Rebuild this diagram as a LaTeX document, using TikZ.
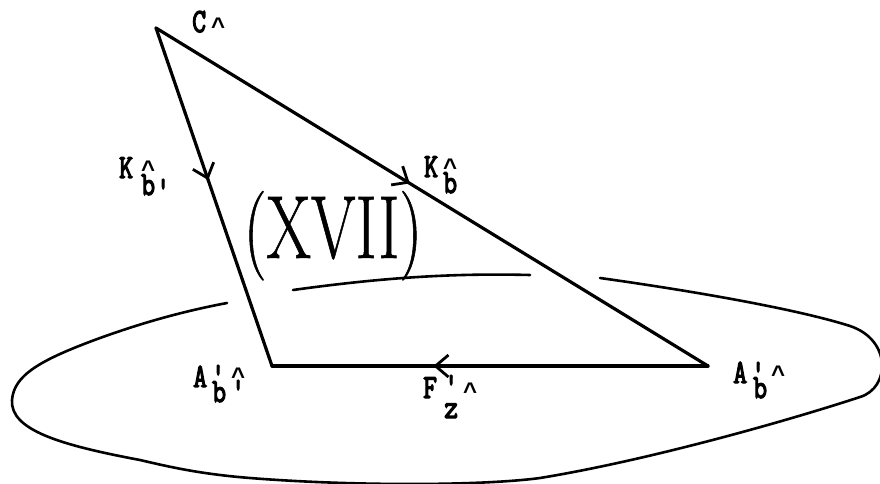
\documentclass[tikz,border=0pt]{standalone}
\usepackage{fontspec}
\usetikzlibrary{arrows.meta,decorations.markings}
\newfontfamily\tw[FakeBold=4]{Latin Modern Mono}
\newfontfamily\crt{Liberation Mono}
\newfontfamily\bigrm[FakeBold=0.8]{Latin Modern Roman}
\tikzset{
  edge/.style={line width=3.2pt,line cap=round,line join=round,postaction={decorate}},
  barb/.style={decoration={markings,mark=at position #1 with {\arrow{Straight Barb[length=13pt,width=22pt,line width=2.8pt]}}}},
  lbl/.style={inner sep=0pt,anchor=base west,font=\tw\fontsize{27}{29}\selectfont},
  hat/.style={inner sep=0pt,anchor=base west,font=\crt\bfseries\fontsize{24}{26}\selectfont},
  ring/.style={line width=2.6pt,line cap=round},
}
\newcommand\tx[1]{\scalebox{1}[1.25]{#1}}
\begin{document}
\begin{tikzpicture}[x=1pt,y=-1pt]
\useasboundingbox[fill=white] (0,0) rectangle (880,484);
\coordinate (C) at (156,28);
\coordinate (L) at (272,366);
\coordinate (R) at (708,366);
% ellipse (ground plane)
\draw[ring] (600,278) .. controls (700,292) and (800,310) .. (850,326)
  .. controls (892,340) and (890,388) .. (860,397)
  .. controls (790,420) and (650,460) .. (540,478)
  .. controls (480,486) and (350,486) .. (250,478)
  .. controls (200,474) and (170,467) .. (140,460)
  .. controls (60,445) and (10,430) .. (12,400)
  .. controls (14,375) and (40,360) .. (100,338)
  .. controls (150,320) and (190,310) .. (227,303);
\draw[ring] (293,290) .. controls (380,278) and (450,273) .. (530,275);
% triangle
\draw[edge,barb=0.45] (C) -- (L);
\draw[edge,barb=0.46] (C) -- (R);
\draw[edge,barb=0.63] (R) -- (L);
% big label
\node[inner sep=0pt,anchor=base] (xvii) at (333,258) {\bigrm\fontsize{63}{70}\selectfont\scalebox{1.02}[1.42]{(XVII)}};
% label C^
\node[lbl] (c1) at (192,32) {\tx{C}};
\node[hat] (c2) at (211,35) {\textasciicircum};
% label K^b' (left)
\node[lbl] (k1) at (119,178) {\tx{K}};
\node[hat] (k2) at (141,177) {\textasciicircum};
\node[lbl] (k3) at (141,195) {\tx{b}};
\node[lbl] (k4) at (156,200) {\tx{'}};
% label K^b (right)
\node[lbl] (m1) at (424,177) {\tx{K}};
\node[hat] (m2) at (443,175) {\textasciicircum};
\node[lbl] (m3) at (443,193) {\tx{b}};
% label A'b^' (left)
\node[lbl] (a1) at (193,387) {\tx{A}};
\node[lbl] (a2) at (211,386) {\tx{'}};
\node[lbl] (a3) at (212,402) {\tx{b}};
\node[hat] (a4) at (231,384) {\textasciicircum};
\node[lbl] (a5) at (231,401) {\tx{'}};
% label F'^z
\node[lbl] (f1) at (423,398) {\tx{F}};
\node[lbl] (f2) at (444,396) {\tx{'}};
\node[hat] (f3) at (463,399) {\textasciicircum};
\node[lbl] (f4) at (444,418) {\tx{z}};
% label A'b^ (right)
\node[lbl] (r1) at (733,383) {\tx{A}};
\node[lbl] (r2) at (751,383) {\tx{'}};
\node[lbl] (r3) at (753,398) {\tx{b}};
\node[hat] (r4) at (771,382) {\textasciicircum};
\end{tikzpicture}
\end{document}
